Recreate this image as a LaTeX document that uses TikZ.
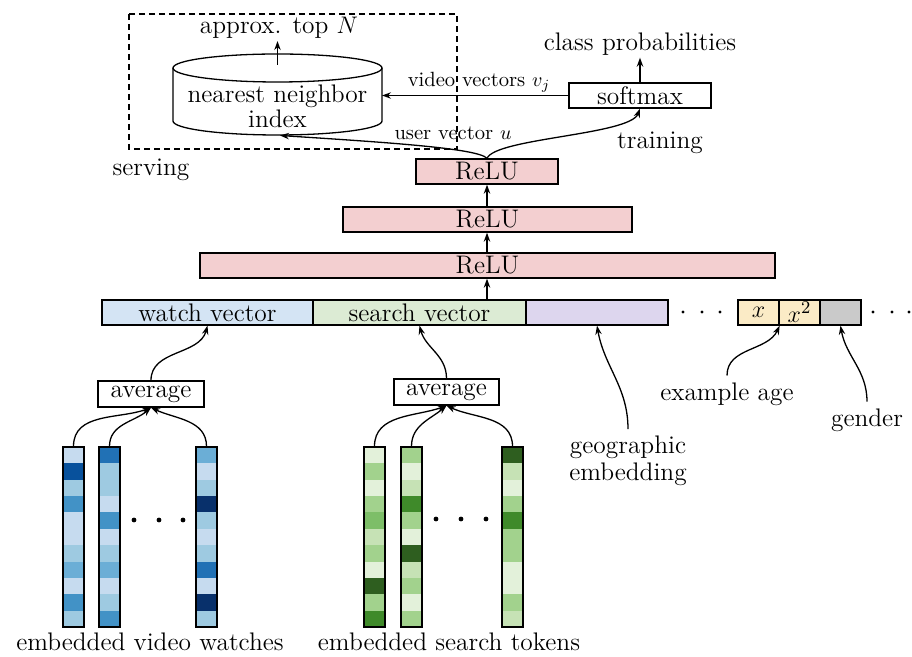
\documentclass[tikz,border=0pt]{standalone}
\usetikzlibrary{arrows.meta}
\definecolor{reluc}{HTML}{F3CFD0}
\definecolor{watchc}{HTML}{D4E4F4}
\definecolor{searchc}{HTML}{DCEBD4}
\definecolor{geoc}{HTML}{DDD6EE}
\definecolor{agec}{HTML}{FBEBC6}
\definecolor{genderc}{HTML}{CACACA}
\definecolor{bA}{HTML}{DEEBF7}
\definecolor{bB}{HTML}{C6DBEF}
\definecolor{bC}{HTML}{9ECAE1}
\definecolor{bD}{HTML}{6BAED6}
\definecolor{bE}{HTML}{4292C6}
\definecolor{bF}{HTML}{2171B5}
\definecolor{bG}{HTML}{08519C}
\definecolor{bH}{HTML}{08306B}
\definecolor{gA}{HTML}{E3F1DA}
\definecolor{gB}{HTML}{C6E2B5}
\definecolor{gC}{HTML}{A2D28D}
\definecolor{gD}{HTML}{7DBE68}
\definecolor{gE}{HTML}{3F8A2A}
\definecolor{gF}{HTML}{2E5E1F}
\begin{document}
\begin{tikzpicture}[x=0.5pt,y=-0.5pt,
  font=\fontsize{12.7}{14}\selectfont,
  ln/.style={line width=0.65pt},
  arr/.style={ln,-{Stealth[length=4.5pt,width=3.2pt]}},
  box/.style={draw,line width=0.65pt,minimum height=12.5pt,inner sep=0pt},
  relubox/.style={box,fill=reluc},
  small/.style={font=\fontsize{10.3}{12}\selectfont},
  colbox/.style={draw,line width=0.65pt,minimum width=10.5pt,minimum height=90pt,inner sep=0pt},
  dot/.style={fill=black}
]
\path[use as bounding box] (0,0) rectangle (912,657);

% serving region
\draw[ln,dash pattern=on 3pt off 2pt] (129,14) rectangle (457,149);
\node (serving) at (151,170) {serving};
\node (training) at (660,143) {training};

% cylinder
\draw[ln] (173,68) -- (173,121) arc[start angle=180,end angle=360,x radius=52.25pt,y radius=7pt] -- (382,68);
\draw[ln] (277.5,68) ellipse [x radius=52.25pt,y radius=7pt];
\node[align=center,font=\fontsize{12.7}{10.8}\selectfont] (nn) at (277.5,106) {nearest neighbor\\index};
\coordinate (nnTop) at (277.5,65);
\coordinate (nnRight) at (382,95.5);
\coordinate (nnBot) at (280,135.5);
\node[inner sep=1pt] (topN) at (279,28) {approx. top $N$};
\draw[arr] (nnTop) -- (nnTop |- topN.south);

% softmax
\node[box,minimum width=71pt] (softmax) at (640,95.5) {softmax};
\node[inner sep=1pt] (cp) at (640,44) {class probabilities};
\draw[arr] (softmax.north) -- (cp.south);
\draw[arr] (softmax.west) -- (nnRight);
\node[small] (vv) at (479,82) {video vectors $v_j$};

% ReLU stack
\node[relubox,minimum width=71pt] (r1) at (487,171.5) {ReLU};
\node[relubox,minimum width=144.5pt] (r2) at (487.5,219.5) {ReLU};
\node[relubox,minimum width=287.5pt] (r3) at (487.5,265.5) {ReLU};
\draw[arr] (r2.north -| r1.south) -- (r1.south);
\draw[arr] (r3.north -| r1.south) -- (r2.south -| r1.south);
\node[small] (uv) at (453,133) {user vector $u$};
\draw[arr] (r1.north) .. controls (478,148) and (380,142) .. (nnBot);
\draw[arr] (r1.north) .. controls (496,138) and (630,135) .. (softmax.south);

% feature vector row
\node[box,fill=watchc,minimum width=105.5pt] (watch) at (207.5,312.5) {watch vector};
\node[box,fill=searchc,minimum width=106.5pt] (search) at (419.5,312.5) {search vector};
\node[box,fill=geoc,minimum width=71pt] (geo) at (597,312.5) {};
\node[box,fill=agec,minimum width=20.5pt] (xa) at (758.5,312.5) {$x$};
\node[box,fill=agec,minimum width=20.5pt] (xb) at (799.5,312.5) {$x^2$};
\node[box,fill=genderc,minimum width=20.5pt] (gender) at (840.5,312.5) {};
\draw[arr] (search.north -| r1.south) -- (r3.south -| r1.south);
\foreach \xx in {683,702,720,873,892,909} \fill (\xx,312) circle[radius=0.85pt];

% side labels
\node[align=center,font=\fontsize{12.7}{13.5}\selectfont] (geolab) at (628,461) {geographic\\embedding};
\node (agelab) at (727,394) {example age};
\node (genlab) at (867,420) {gender};
\draw[arr] (geolab.north) to[out=90,in=-80] (geo.south);
\draw[arr] (agelab.north) to[out=90,in=-115] (xa.south east);
\draw[arr] (genlab.north) to[out=90,in=-80] (gender.south);

% averages
\node[box,minimum width=53pt,minimum height=13pt] (avg1) at (151,394) {average};
\node[box,minimum width=52.5pt,minimum height=13pt] (avg2) at (446.5,392) {average};
\draw[arr] (avg1.north) to[out=90,in=-105] (watch.south);
\draw[arr] (avg2.north) to[out=90,in=-75] (search.south);

% embedded video watches columns
\foreach \c [count=\i from 0] in {bB,bG,bC,bE,bB,bB,bC,bD,bB,bE,bC}
  \fill[\c] (63,{447+\i*16.364}) rectangle (84,{447+(\i+1)*16.364});
\foreach \c [count=\i from 0] in {bF,bC,bC,bB,bE,bB,bC,bD,bB,bC,bE}
  \fill[\c] (99,{447+\i*16.364}) rectangle (120,{447+(\i+1)*16.364});
\foreach \c [count=\i from 0] in {bD,bB,bC,bH,bC,bB,bC,bF,bB,bH,bC}
  \fill[\c] (196,{447+\i*16.364}) rectangle (217,{447+(\i+1)*16.364});
\node[colbox] (b1) at (73.5,537) {};
\node[colbox] (b2) at (109.5,537) {};
\node[colbox] (b3) at (206.5,537) {};
\foreach \xx in {134,159,183} \fill (\xx,520) circle[radius=1.2pt];
\draw[arr] (b1.north) to[out=90,in=-160] (avg1.south);
\draw[arr] (b2.north) to[out=90,in=-140] (avg1.south);
\draw[arr] (b3.north) to[out=90,in=-25] (avg1.south);
\node (vidlab) at (150,642) {embedded video watches};

% embedded search tokens columns
\foreach \c [count=\i from 0] in {gA,gC,gA,gC,gD,gB,gC,gA,gF,gC,gE}
  \fill[\c] (364,{447+\i*16.364}) rectangle (385,{447+(\i+1)*16.364});
\foreach \c [count=\i from 0] in {gC,gA,gB,gE,gC,gA,gF,gB,gC,gA,gC}
  \fill[\c] (401,{447+\i*16.364}) rectangle (422,{447+(\i+1)*16.364});
\foreach \c [count=\i from 0] in {gF,gB,gA,gC,gE,gC,gC,gA,gA,gC,gB}
  \fill[\c] (502,{447+\i*16.364}) rectangle (523,{447+(\i+1)*16.364});
\node[colbox] (g1) at (374.5,537) {};
\node[colbox] (g2) at (411.5,537) {};
\node[colbox] (g3) at (512.5,537) {};
\foreach \xx in {436,461,486} \fill (\xx,519) circle[radius=1.2pt];
\draw[arr] (g1.north) to[out=90,in=-160] (avg2.south);
\draw[arr] (g2.north) to[out=90,in=-140] (avg2.south);
\draw[arr] (g3.north) to[out=90,in=-25] (avg2.south);
\node (srchlab) at (449,642) {embedded search tokens};
\end{tikzpicture}
\end{document}
